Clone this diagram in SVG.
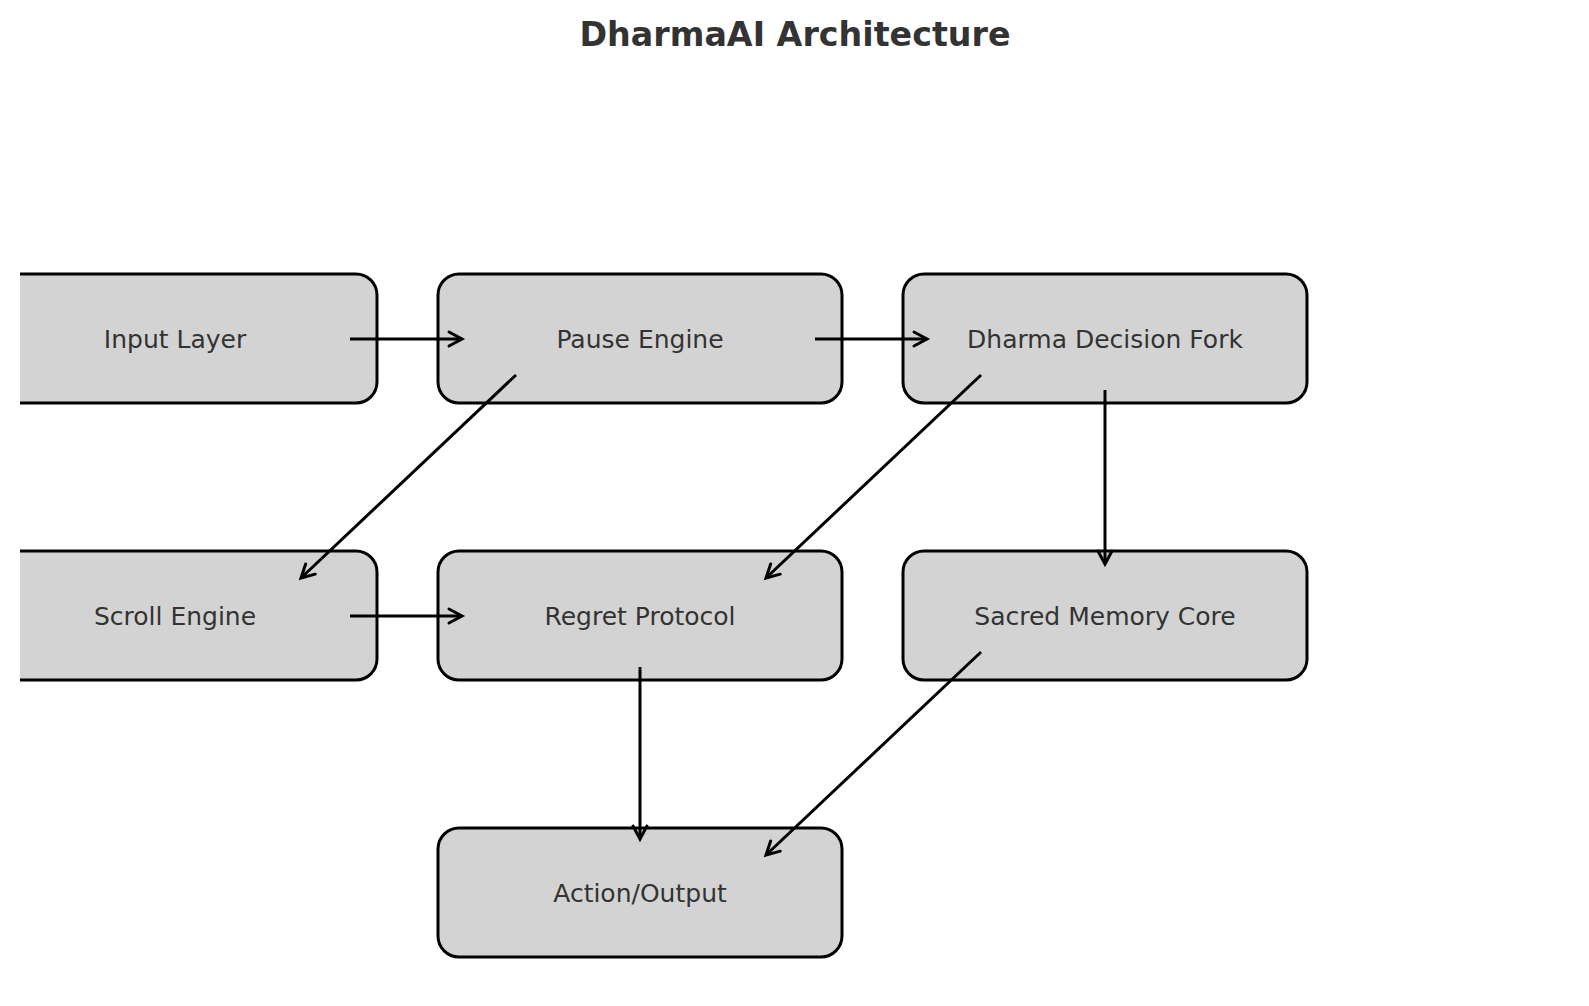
<svg xmlns="http://www.w3.org/2000/svg" width="1589" height="1006" viewBox="0 0 1589 1006">
<style>
.box{fill:#d3d3d3;stroke:#000;stroke-width:3}
.lbl{font-family:"DejaVu Sans",sans-serif;font-size:25px;fill:#333;text-anchor:middle}
.title{font-family:"DejaVu Sans",sans-serif;font-size:33.3px;font-weight:bold;fill:#333;text-anchor:middle}
.edge{stroke:#000;stroke-width:3;fill:none;marker-end:url(#ah)}
</style>
<defs>
<marker id="ah" markerUnits="userSpaceOnUse" markerWidth="30" markerHeight="30" viewBox="-20 -15 30 30" refX="0" refY="0" orient="auto" overflow="visible">
<path d="M-13,-7 L0,0 L-13,7" fill="none" stroke="#000" stroke-width="3" stroke-linecap="round"/>
</marker>
<clipPath id="clip"><rect x="20" y="0" width="1569" height="1006"/></clipPath>
</defs>
<rect width="1589" height="1006" fill="#fff"/>
<text class="title" x="795" y="46">DharmaAI Architecture</text>
<g id="input-layer" clip-path="url(#clip)"><rect class="box" x="-27" y="274" width="404" height="129" rx="21"/><text class="lbl" x="175" y="347.5">Input Layer</text></g>
<g id="pause-engine"><rect class="box" x="438" y="274" width="404" height="129" rx="21"/><text class="lbl" x="640" y="347.5">Pause Engine</text></g>
<g id="dharma-decision-fork"><rect class="box" x="903" y="274" width="404" height="129" rx="21"/><text class="lbl" x="1105" y="347.5">Dharma Decision Fork</text></g>
<g id="scroll-engine" clip-path="url(#clip)"><rect class="box" x="-27" y="551" width="404" height="129" rx="21"/><text class="lbl" x="175" y="624.5">Scroll Engine</text></g>
<g id="regret-protocol"><rect class="box" x="438" y="551" width="404" height="129" rx="21"/><text class="lbl" x="640" y="624.5">Regret Protocol</text></g>
<g id="sacred-memory-core"><rect class="box" x="903" y="551" width="404" height="129" rx="21"/><text class="lbl" x="1105" y="624.5">Sacred Memory Core</text></g>
<g id="action-output"><rect class="box" x="438" y="828" width="404" height="129" rx="21"/><text class="lbl" x="640" y="901.5">Action/Output</text></g>
<g id="connectors">
<line class="edge" x1="350" y1="339" x2="462" y2="339"/>
<line class="edge" x1="815" y1="339" x2="927" y2="339"/>
<line class="edge" x1="350" y1="616" x2="462" y2="616"/>
<line class="edge" x1="516" y1="375" x2="301" y2="578"/>
<line class="edge" x1="981" y1="375" x2="766" y2="578"/>
<line class="edge" x1="981" y1="652" x2="766" y2="855"/>
<line class="edge" x1="1105" y1="390" x2="1105" y2="564"/>
<line class="edge" x1="640" y1="667" x2="640" y2="839"/>
</g>
</svg>
